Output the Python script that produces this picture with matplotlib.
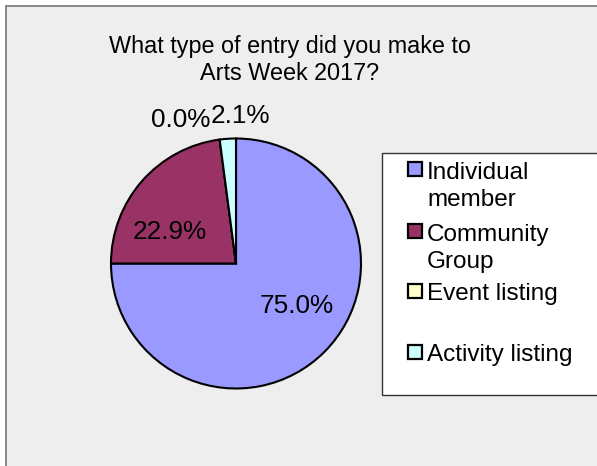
import matplotlib.pyplot as plt
from matplotlib.patches import Rectangle

# entries for Arts Week 2017, by type
categories = ['Individual member', 'Community Group', 'Event listing', 'Activity listing']
legend_labels = ['Individual\nmember', 'Community\nGroup', 'Event listing', 'Activity listing']
counts = [36, 11, 0, 1]
colors = ['#9999FF', '#993366', '#FFFFCC', '#CCFFFF']

plt.rcParams['font.family'] = ['Liberation Sans', 'DejaVu Sans']

W, H = 597, 466
fig = plt.figure(figsize=(W / 100, H / 100), dpi=100, facecolor='white')


def fx(px):
    return px / W


def fy(py):
    return 1 - py / H


# chart area
fig.patches.append(Rectangle((fx(6), fy(H + 20)), fx(W + 20), (H + 14) / H,
                             transform=fig.transFigure, facecolor='#EEEEEE',
                             edgecolor='#7F7F7F', linewidth=1.3, zorder=-2))

# baseline given for the last line of the title
fig.text(fx(290), fy(80), 'What type of entry did you make to\nArts Week 2017?',
         ha='center', va='baseline', multialignment='center',
         fontsize=16.8, linespacing=1.23)

# pie, radius 125 px around (236, 263.5)
cx, cy, r = 236, 263.5, 125
ax = fig.add_axes([fx(cx - r), fy(cy + r), 2 * r / W, 2 * r / H])
ax.set_zorder(1)
wedges, texts, autotexts = ax.pie(counts, colors=colors, startangle=90, counterclock=False,
                                  autopct='%1.1f%%',
                                  wedgeprops=dict(edgecolor='black', linewidth=1.5),
                                  textprops=dict(fontsize=18.8))
ax.set_xlim(-1, 1)
ax.set_ylim(-1, 1)
ax.axis('off')

label_pos = [(0.484, -0.398), (-0.528, 0.194), (-0.44, 1.092), (0.032, 1.124)]
for t, (x, y) in zip(autotexts, label_pos):
    t.set_position((x, y))
    t.set_ha('center')
    t.set_va('baseline')

# legend box
fig.patches.append(Rectangle((fx(382), fy(395)), fx(W), (395 - 153) / H,
                             transform=fig.transFigure, facecolor='white',
                             edgecolor='#333333', linewidth=1.0, zorder=-1))
marker_y = [169, 231, 291, 352]
for lab, col, my in zip(legend_labels, colors, marker_y):
    fig.patches.append(Rectangle((fx(407.5), fy(my + 7)), fx(14), 14 / H,
                                 transform=fig.transFigure, facecolor=col,
                                 edgecolor='black', linewidth=1.6, zorder=2))
    base = my + 9 + 28 * lab.count('\n')
    fig.text(fx(427), fy(base), lab, ha='left', va='baseline',
             fontsize=17.5, linespacing=1.29, zorder=3)

fig.savefig('out.png', dpi=100, facecolor='white')
